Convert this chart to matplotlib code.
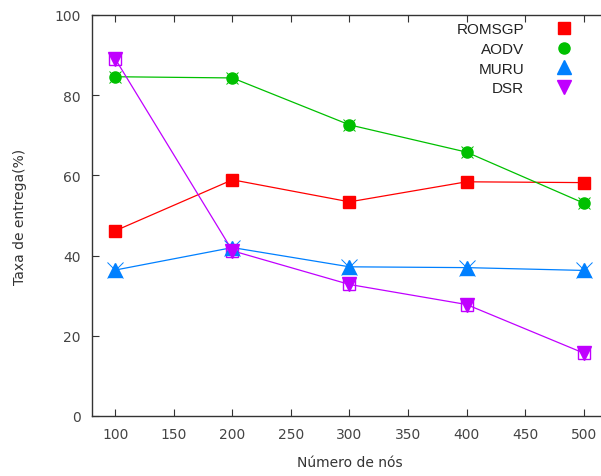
import matplotlib
matplotlib.use("Agg")
import matplotlib.pyplot as plt

# numero de nos
nos = [100, 200, 300, 400, 500]

# taxa de entrega (%) por protocolo
romsgp = [46.2, 58.9, 53.4, 58.4, 58.2]
aodv = [84.6, 84.3, 72.6, 65.8, 53.1]
muru = [36.4, 42.0, 37.2, 37.0, 36.3]
dsr = [89.0, 41.2, 32.8, 27.8, 15.7]

xticks = [100, 150, 200, 250, 300, 350, 400, 450, 500]
yticks = [0, 20, 40, 60, 80, 100]

fig = plt.figure(figsize=(6.01, 4.77), dpi=100)
# o lado direito do quadro fica cortado, como no original
ax = fig.add_axes([0.153, 0.1258, 0.857, 0.8407])

# linhas finas + marcadores grandes (estilo gnuplot)
ax.plot(nos, romsgp, color="#ff0000", lw=0.9, zorder=2)
ax.plot(nos, aodv, color="#00c000", lw=0.9, zorder=2)
ax.plot(nos, muru, color="#0080ff", lw=0.9, zorder=2)
ax.plot(nos, dsr, color="#c000ff", lw=0.9, zorder=2)

# pequenos "x" de desvio atras dos pontos
ax.plot(nos, aodv, ls="none", marker="x", ms=9, mew=0.7, color="#00c000", zorder=3)
ax.plot(nos, muru, ls="none", marker="x", ms=11, mew=0.7, color="#0080ff", zorder=3)
ax.plot(nos, dsr, ls="none", marker="s", ms=9, mew=1.0, mfc="none", mec="#c000ff", zorder=3)

h1, = ax.plot(nos, romsgp, ls="none", marker="s", ms=8.5, color="#ff0000", zorder=4, label="ROMSGP")
h2, = ax.plot(nos, aodv, ls="none", marker="o", ms=8, color="#00c000", zorder=4, label="AODV")
h3, = ax.plot(nos, muru, ls="none", marker="^", ms=10, color="#0080ff", zorder=4, label="MURU")
h4, = ax.plot(nos, dsr, ls="none", marker="v", ms=10, color="#c000ff", zorder=4, label="DSR")

ax.set_xlim(80, 520)
ax.set_ylim(0, 100)
ax.set_xticks(xticks)
ax.set_yticks(yticks)
ax.tick_params(direction="in", length=5, width=0.8, top=True, right=False,
               labelsize=10, labelcolor="#444444", color="#333333", pad=8)
for s in ax.spines.values():
    s.set_linewidth(1.0)
    s.set_color("#333333")

ax.set_xlabel("Número de nós", fontsize=10, color="#333333", labelpad=10)
ax.set_ylabel("Taxa de entrega(%)", fontsize=10, color="#333333", labelpad=20)

leg = ax.legend(handles=[h1, h2, h3, h4], loc="upper right", frameon=False,
                markerfirst=False, handletextpad=1.6, labelspacing=0.37,
                borderaxespad=0.0, bbox_to_anchor=(0.958, 0.997),
                prop={"family": "Liberation Sans", "size": 11})
for t in leg.get_texts():
    t.set_color("#222222")

fig.savefig("out.png", dpi=100)
